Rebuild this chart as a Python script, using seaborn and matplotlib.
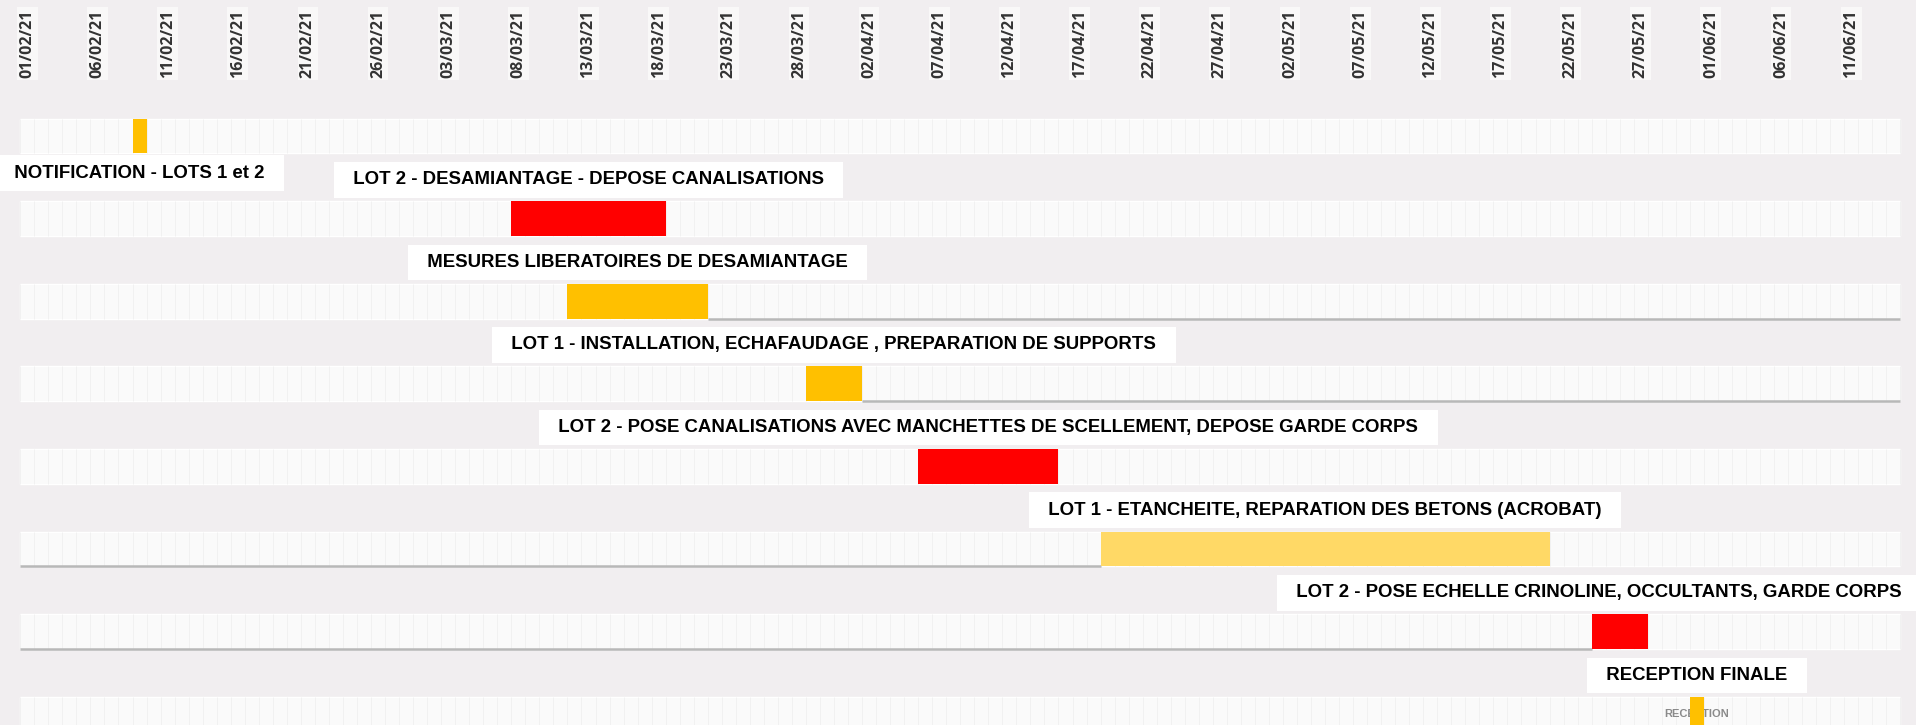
import seaborn as sns
import pandas as pd
import matplotlib.pyplot as plt
import matplotlib.dates as mdates
import numpy as np

# Planning des travaux (Gantt)
taches = [
    "NOTIFICATION - LOTS 1 et 2",
    "LOT 2 - DESAMIANTAGE - DEPOSE CANALISATIONS",
    "MESURES LIBERATOIRES DE DESAMIANTAGE",
    "LOT 1 - INSTALLATION, ECHAFAUDAGE , PREPARATION DE SUPPORTS",
    "LOT 2 - POSE CANALISATIONS AVEC MANCHETTES DE SCELLEMENT, DEPOSE GARDE CORPS",
    "LOT 1 - ETANCHEITE, REPARATION DES BETONS (ACROBAT)",
    "LOT 2 - POSE ECHELLE CRINOLINE, OCCULTANTS, GARDE CORPS",
    "RECEPTION FINALE",
]
debuts = ["2021-02-09", "2021-03-08", "2021-03-12", "2021-03-29",
          "2021-04-06", "2021-04-19", "2021-05-24", "2021-05-31"]
durees = [1, 11, 10, 4, 10, 32, 4, 1]
couleurs = ["#ffc000", "#ff0000", "#ffc000", "#ffc000",
            "#ff0000", "#ffd966", "#ff0000", "#ffc000"]

# echelle de temps
debut_planning = "2021-02-01"
fin_planning = "2021-06-15"
pas_jours = 5

sns.set_theme(style="white")
plt.rcParams["font.family"] = ["Liberation Sans", "DejaVu Sans"]

fond = "#f1eef0"
fig = plt.figure(figsize=(19.16, 7.25), dpi=100, facecolor=fond)
ax = fig.add_axes([0, 0, 1, 1], facecolor=fond)

t0 = mdates.date2num(pd.Timestamp(debut_planning))
t_fin = mdates.date2num(pd.Timestamp(fin_planning))
x_debut = mdates.date2num(pd.to_datetime(debuts))
x_fin = x_debut + np.array(durees)
lignes = np.arange(len(taches))
h = 0.42

ax.set_xlim(t0 - 1.446, t0 + 135.12)
ax.set_ylim(7.13, -1.646)

# bandes de fond de chaque ligne
ax.barh(lignes, t_fin - t0, left=t0, height=h, color="#fafafa", zorder=1)
jours = np.arange(t0, t_fin + 1)
for i in lignes:
    ax.vlines(jours, i - h / 2, i + h / 2, color="#f1f1f1", lw=0.7, zorder=1.5)

# liens gris sous certaines lignes
gris = "#b8b8b8"
ax.hlines(2 + h / 2, x_fin[2], t_fin, color=gris, lw=1.8, zorder=2)
ax.hlines(3 + h / 2, x_fin[3], t_fin, color=gris, lw=1.8, zorder=2)
ax.hlines(5 + h / 2, t0, x_debut[5], color=gris, lw=1.8, zorder=2)
ax.hlines(6 + h / 2, t0, x_debut[6], color=gris, lw=1.8, zorder=2)

# petit libelle sous la reception
ax.text(x_debut[7] + 0.5, 7.0, "RECEPTION", ha="center", va="center",
        fontsize=8, fontweight="bold", color="#8a8a8a", zorder=2.5)

# barres des taches
ax.barh(lignes, durees, left=x_debut, height=h, color=couleurs, zorder=3,
        edgecolor="none")

# libelles des taches
fig.canvas.draw()
rendu = fig.canvas.get_renderer()
largeur_fig = fig.bbox.width
for i, (nom, xd, xf) in enumerate(zip(taches, x_debut, x_fin)):
    y = i + 0.45 if i == 0 else i - 0.47
    txt = ax.text((xd + xf) / 2, y, "  " + nom + "  ", ha="center", va="center",
                  fontsize=13.4, fontweight="bold", color="black", zorder=5,
                  bbox=dict(boxstyle="square,pad=0.5", fc="white", ec="none"))
    # on garde le texte dans l'image
    ext = txt.get_window_extent(rendu)
    depasse = ext.x1 - (largeur_fig - 4)
    if depasse > 0:
        px_par_jour = ax.bbox.width / (ax.get_xlim()[1] - ax.get_xlim()[0])
        txt.set_x((xd + xf) / 2 - depasse / px_par_jour)

# dates en haut
dates = pd.date_range(debut_planning, "2021-06-11", freq=f"{pas_jours}D")
for d in dates:
    ax.text(mdates.date2num(d) + 0.5, -1.12, d.strftime("%d/%m/%y"),
            rotation=90, ha="center", va="center", fontsize=11.5,
            fontweight="bold", color="#333333", family=["Open Sans", "DejaVu Sans"],
            bbox=dict(boxstyle="square,pad=0.15", fc="white", ec="none", alpha=0.6))

ax.set_xticks([])
ax.set_yticks([])
sns.despine(ax=ax, left=True, bottom=True)

fig.savefig("out.png", dpi=100, facecolor=fond)
